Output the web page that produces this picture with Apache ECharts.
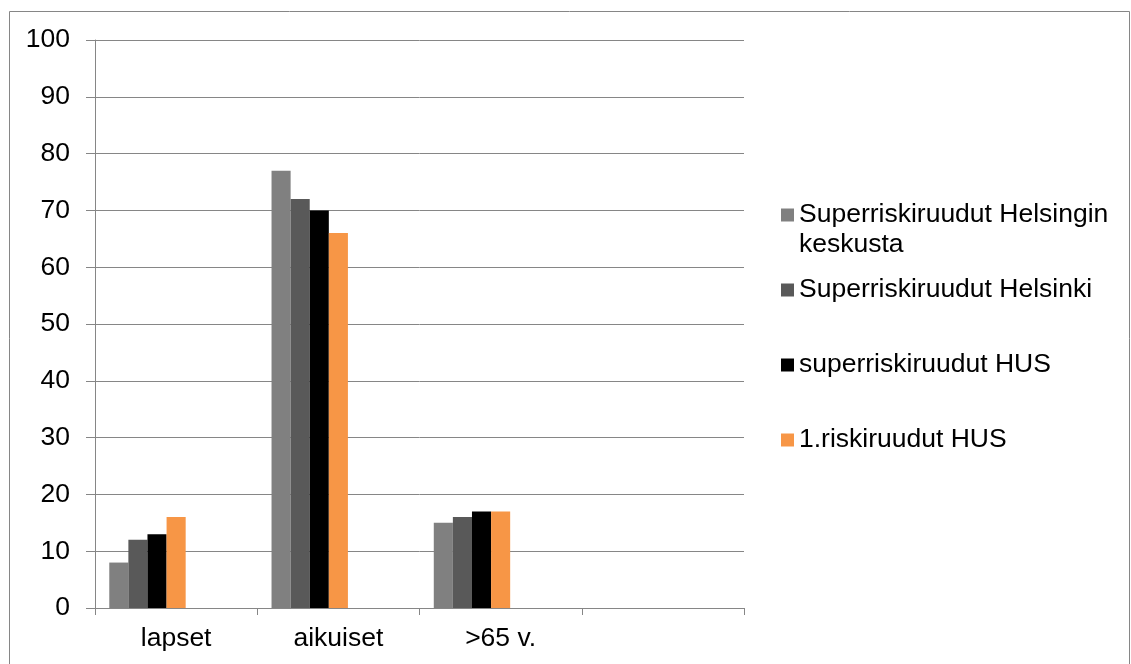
<!DOCTYPE html>
<html>
<head>
<meta charset="utf-8">
<script src="https://cdn.jsdelivr.net/npm/echarts@6/dist/echarts.min.js"></script>
<style>
  html, body { margin: 0; padding: 0; background: #fff; }
  #chart { width: 1131px; height: 664px; }
</style>
</head>
<body>
<div id="chart"></div>
<script>
// Age groups on the x axis (the fourth slot is left empty)
const categories = ['lapset', 'aikuiset', '>65 v.', ''];

// Share (%) per age group for each area type
const keskustaValues = [8, 77, 15, null];
const helsinkiValues = [12, 72, 16, null];
const husSuperValues = [13, 70, 17, null];
const hus1Values = [16, 66, 17, null];

// Series that hold a slot in each group but carry no values
const emptyValues = [null, null, null, null];

const yTicks = { min: 0, max: 100, interval: 10 };

const seriesNames = [
  'Superriskiruudut Helsingin\nkeskusta',
  'Superriskiruudut Helsinki',
  'superriskiruudut HUS',
  '1.riskiruudut HUS'
];
const seriesColors = ['#808080', '#595959', '#000000', '#F79646'];
const seriesValues = [keskustaValues, helsinkiValues, husSuperValues, hus1Values];

const FONT = '"Liberation Sans", Arial, sans-serif';
const FS = 26.5;
const GRID_COLOR = '#868686';

const series = seriesValues.map((vals, i) => ({
  name: seriesNames[i],
  type: 'bar',
  data: vals,
  barGap: '0%',
  barCategoryGap: '17.6%',
  itemStyle: { color: seriesColors[i] },
  emphasis: { disabled: true }
}));
for (let k = 0; k < 3; k++) {
  series.push({
    name: 'tyhjä' + (k + 1),
    type: 'bar',
    data: emptyValues,
    barGap: '0%',
    barCategoryGap: '17.6%',
    itemStyle: { color: 'transparent' }
  });
}

// One legend block per entry so each can sit at its own height;
// a two-line name gets a blank first line so its first text line meets the marker
const legendCenters = [215, 290, 365, 440];
const legends = seriesNames.map((name, i) => {
  const twoLines = name.indexOf('\n') >= 0;
  return {
    data: [name],
    orient: 'vertical',
    left: 781,
    top: twoLines ? legendCenters[i] - 45 : legendCenters[i] - 15,
    padding: 0,
    itemWidth: 13,
    itemHeight: 13,
    itemGap: 0,
    icon: 'rect',
    selectedMode: false,
    formatter: n => (n.indexOf('\n') >= 0 ? ' \n' + n : n),
    textStyle: {
      fontFamily: FONT,
      fontSize: FS,
      color: '#000',
      lineHeight: 30
    }
  };
});

const chart = echarts.init(document.getElementById('chart'), null, { renderer: 'canvas' });
chart.setOption({
  animation: false,
  backgroundColor: '#ffffff',
  graphic: [{
    type: 'rect',
    shape: { x: 9.5, y: 11.5, width: 1120, height: 700 },
    style: { fill: 'none', stroke: GRID_COLOR, lineWidth: 1 },
    silent: true,
    z: -10
  }],
  legend: legends,
  grid: { left: 95, right: 387, top: 40, bottom: 56, containLabel: false },
  xAxis: {
    type: 'category',
    data: categories,
    boundaryGap: true,
    axisLine: { show: true, lineStyle: { color: GRID_COLOR, width: 1 } },
    axisTick: { show: true, alignWithLabel: false, length: 7, lineStyle: { color: GRID_COLOR } },
    axisLabel: { fontFamily: FONT, fontSize: FS, color: '#000', margin: 17 },
    splitLine: { show: false }
  },
  yAxis: {
    type: 'value',
    min: yTicks.min,
    max: yTicks.max,
    interval: yTicks.interval,
    axisLine: { show: true, lineStyle: { color: GRID_COLOR, width: 1 } },
    axisTick: { show: true, length: 9, lineStyle: { color: GRID_COLOR } },
    axisLabel: { fontFamily: FONT, fontSize: FS, color: '#000', margin: 25 },
    splitLine: { show: true, lineStyle: { color: GRID_COLOR, width: 1 } }
  },
  series: series
});
</script>
</body>
</html>
